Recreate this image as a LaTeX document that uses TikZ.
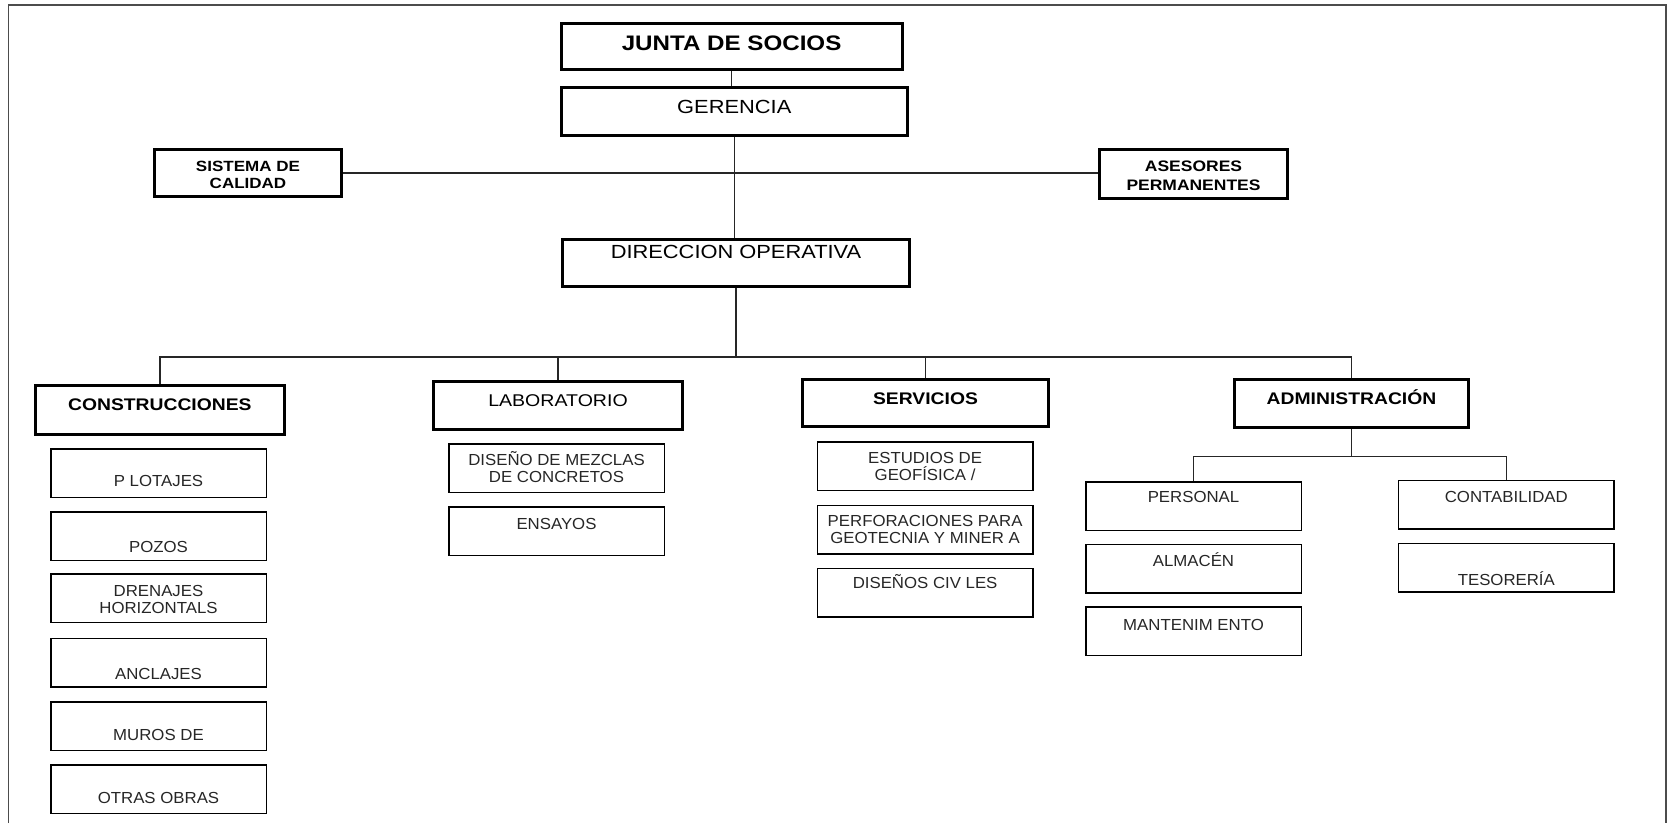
\documentclass[tikz,border=0pt]{standalone}
\usepackage{fontspec}
\setmainfont{Liberation Sans}[FakeStretch=1.15]
\newfontfamily\subfam{Liberation Sans}[FakeStretch=1.05]
\begin{document}
\begin{tikzpicture}[x=1pt,y=-1pt,
  hbox/.style={draw=black, line width=3pt, rectangle, inner sep=0pt},
  sbox/.style={draw=black, line width=1.5pt, rectangle, inner sep=0pt, minimum width=215.5pt, minimum height=48.5pt},
  conn/.style={draw=black!85, line width=1.3pt},
  frame/.style={draw=black!70, line width=1.5pt},
  txt/.style={anchor=base, inner sep=0pt, align=center, text=black},
  stxt/.style={anchor=base, inner sep=0pt, align=center, text=black!85, font=\subfam\fontsize{16}{16.8}\selectfont},
  big/.style={font=\fontsize{21}{24}\selectfont\bfseries},
  mid/.style={font=\fontsize{19}{21}\selectfont},
  head/.style={font=\fontsize{17}{19}\selectfont},
  headb/.style={font=\fontsize{16.8}{19}\selectfont\bfseries},
  small/.style={font=\fontsize{14.8}{16.6}\selectfont\bfseries},
  smallb/.style={font=\fontsize{15.2}{19}\selectfont\bfseries}
]
\useasboundingbox (0,0) rectangle (1672,823);
\draw[frame] (8.6,823) -- (8.6,5) -- (1666,5) -- (1666,823);

% top level
\node[hbox, minimum width=341pt, minimum height=46.3pt] (jun) at (731.6,46.35) {};
\node[txt,big] (tjun) at (731.6,50) {JUNTA DE SOCIOS};
\node[hbox, minimum width=346.4pt, minimum height=47.7pt] (ger) at (734.3,111.35) {};
\node[txt,mid] (tger) at (734.3,113.3) {GERENCIA};
\node[hbox, minimum width=187pt, minimum height=47pt] (sis) at (248,173) {};
\node[txt,small] (tsis) at (248,188.3) {SISTEMA DE\\CALIDAD};
\node[hbox, minimum width=188pt, minimum height=48.7pt] (ase) at (1193.5,174.15) {};
\node[txt,smallb] (tase) at (1193.5,190.7) {ASESORES\\PERMANENTES};
\node[hbox, minimum width=347pt, minimum height=47.6pt] (dir) at (736,263) {};
\node[txt,mid] (tdir) at (736,258.3) {DIRECCION OPERATIVA};

% departments
\node[hbox, minimum width=248.7pt, minimum height=48.7pt] (con) at (159.85,410.15) {};
\node[txt,headb] (tcon) at (159.85,410) {CONSTRUCCIONES};
\node[hbox, minimum width=249pt, minimum height=48pt] (lab) at (558,405.5) {};
\node[txt,head] (tlab) at (558,406) {LABORATORIO};
\node[hbox, minimum width=246pt, minimum height=47pt] (ser) at (925.5,403) {};
\node[txt,headb] (tser) at (925.5,404) {SERVICIOS};
\node[hbox, minimum width=234pt, minimum height=48pt] (adm) at (1351.5,403.5) {};
\node[txt,headb] (tadm) at (1351.5,404) {ADMINISTRACIÓN};

% construcciones
\node[sbox] (pil) at (158.5,473) {};
\node[stxt] (tpil) at (158.5,486.7) {P LOTAJES};
\node[sbox] (poz) at (158.5,536) {};
\node[stxt] (tpoz) at (158.5,552.3) {POZOS};
\node[sbox] (dre) at (158.5,598) {};
\node[stxt] (tdre) at (158.5,613.3) {DRENAJES\\HORIZONTALS};
\node[sbox] (anc) at (158.5,662.7) {};
\node[stxt] (tanc) at (158.5,679) {ANCLAJES};
\node[sbox] (mur) at (158.5,726) {};
\node[stxt] (tmur) at (158.5,740) {MUROS DE};
\node[sbox] (otr) at (158.5,789) {};
\node[stxt] (totr) at (158.5,803.3) {OTRAS OBRAS};

% laboratorio
\node[sbox] (mez) at (556.5,468.2) {};
\node[stxt] (tmez) at (556.5,482.3) {DISEÑO DE MEZCLAS\\DE CONCRETOS};
\node[sbox] (ens) at (556.5,531.35) {};
\node[stxt] (tens) at (556.5,529.3) {ENSAYOS};

% servicios
\node[sbox] (est) at (925.1,466.35) {};
\node[stxt] (test) at (925.1,480.7) {ESTUDIOS DE\\GEOFÍSICA /};
\node[sbox] (per) at (925.1,529.5) {};
\node[stxt] (tper) at (925.1,543.3) {PERFORACIONES PARA\\GEOTECNIA Y MINER A};
\node[sbox] (dci) at (925.1,592.5) {};
\node[stxt] (tdci) at (925.1,588.3) {DISEÑOS CIV LES};

% administracion
\node[sbox] (pers) at (1193.5,506.35) {};
\node[stxt] (tpers) at (1193.5,502.7) {PERSONAL};
\node[sbox] (alm) at (1193.5,568.5) {};
\node[stxt] (talm) at (1193.5,566.7) {ALMACÉN};
\node[sbox] (man) at (1193.5,631.35) {};
\node[stxt] (tman) at (1193.5,630) {MANTENIM ENTO};
\node[sbox] (cnt) at (1506.3,504.5) {};
\node[stxt] (tcnt) at (1506.3,502.3) {CONTABILIDAD};
\node[sbox] (tes) at (1506.3,567.85) {};
\node[stxt] (ttes) at (1506.3,585) {TESORERÍA};

% connectors
\coordinate (bar) at (0,357);
\coordinate (sbar) at (0,456.5);
\draw[conn] (jun.south) -- (jun.south |- ger.north);
\draw[conn] (ger.south) -- (ger.south |- dir.north);
\draw[conn] (sis.east) -- (sis.east -| ase.west);
\draw[conn] (dir.south) -- (dir.south |- bar);
\draw[conn] (con.north) -- (con.north |- bar) -- (adm.north |- bar) -- (adm.north);
\draw[conn] (lab.north) -- (lab.north |- bar);
\draw[conn] (ser.north) -- (ser.north |- bar);
\draw[conn] (adm.south) -- (adm.south |- sbar);
\draw[conn] (pers.north) -- (pers.north |- sbar) -- (cnt.north |- sbar) -- (cnt.north);
\end{tikzpicture}
\end{document}
